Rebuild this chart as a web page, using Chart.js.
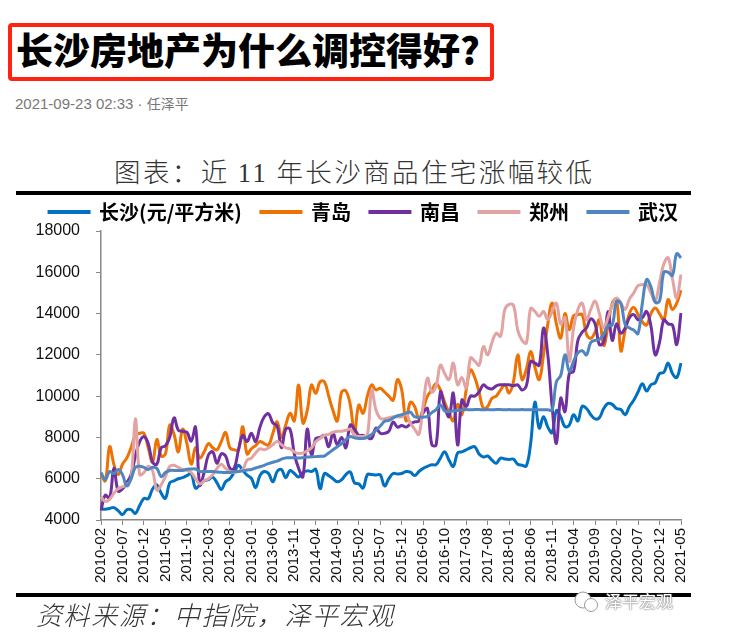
<!DOCTYPE html>
<html>
<head>
<meta charset="utf-8">
<script src="https://cdn.jsdelivr.net/npm/chart.js@4"></script>
<style>
  html, body { margin: 0; background: #fff; }
  body { position: relative; width: 744px; height: 634px; overflow: hidden; font-family: "Noto Sans CJK SC", sans-serif; }
  #headline { position: absolute; left: 8px; top: 23px; width: 478px; height: 50px; border: 4px solid #ff2412; border-radius: 4px;
    font-size: 37px; font-weight: 900; line-height: 44px; color: #000; text-indent: 4px; white-space: nowrap; }
  #stamp { position: absolute; left: 15px; top: 94px; font-family: "Liberation Sans", sans-serif; font-size: 15px; line-height: 18px; color: #777; white-space: nowrap; }
  #stamp span { font-family: "Noto Sans CJK SC", sans-serif; font-size: 14px; }
  #figTitle { position: absolute; left: 114px; top: 153px; font-size: 26.5px; line-height: 36px; font-weight: 300; letter-spacing: 2.4px; color: #333; white-space: nowrap; }
  #figTitle span { font-family: "Liberation Serif", serif; }
  .rule { position: absolute; left: 16px; width: 675px; background: #000; }
  #source { position: absolute; left: 36px; top: 597px; font-size: 26px; line-height: 34px; font-style: italic; font-weight: 300; letter-spacing: 1.6px; color: #333; white-space: nowrap; }
  #mark { position: absolute; left: 605px; top: 590px; font-size: 17px; line-height: 22px; color: #fff; text-shadow: 0 0 2px #777, 0 0 1px #555; white-space: nowrap; }
  #logo { position: absolute; left: 573px; top: 590px; }
  canvas { position: absolute; left: 0; top: 183px; }
</style>
</head>
<body>
<div id="headline">长沙房地产为什么调控得好?</div>
<div id="stamp">2021-09-23 02:33 · <span>任泽平</span></div>
<div id="figTitle">图表&#xFF1A;近 <span>11</span> 年长沙商品住宅涨幅较低</div>
<div class="rule" style="top:191px;height:4px"></div>
<canvas id="priceChart" width="744" height="412"></canvas>
<div class="rule" style="top:593px;height:4px"></div>
<div id="source">资料来源&#xFF1A;中指院&#xFF0C;泽平宏观</div>
<svg id="logo" width="26" height="24" viewBox="0 0 26 24">
  <circle cx="10" cy="10" r="8" fill="#fff" stroke="#999"/>
  <circle cx="18" cy="15" r="6.5" fill="#fff" stroke="#999"/>
</svg>
<div id="mark">泽平宏观</div>

<script>
// 2010-02 .. 2021-05, monthly
const months = [];
for (let y = 2010, m = 2; y < 2021 || m <= 5; m++) {
  if (m > 12) { m = 1; y++; }
  months.push(y + '-' + String(m).padStart(2, '0'));
}

const changsha = [
  4550,4520,4560,4600,4450,4260,4500,4500,4320,4700,
  5050,5030,5500,5700,5300,5050,5800,5900,6000,6050,
  6150,6250,5550,5700,5900,5950,6080,5800,5480,5850,
  6000,6300,6650,6400,6170,6020,5570,6150,6350,6250,
  5850,6350,6450,6050,6400,6250,6080,6300,6380,6350,
  6450,5520,6250,6150,6000,5850,5950,6200,6330,5800,
  5750,5550,6200,6200,6180,6190,5650,6000,6250,6230,
  6250,6350,6320,6150,6350,6500,6600,6680,6680,7000,
  7300,6900,6600,7250,7300,7400,7500,7550,7200,7050,
  7100,6900,6750,7000,6950,6930,6950,6700,6650,6620,
  7700,9700,8450,9000,8500,8230,9300,9000,8520,8600,
  9100,8800,9500,9400,9100,8900,8950,9400,9650,9600,
  9400,9350,9100,9500,9800,10200,10600,10250,10550,10650,
  11100,11150,11600,11100,10900,11600
];
const qingdao = [
  6200,5900,7550,6700,6200,6700,7000,7500,8100,8200,
  8200,7500,6800,7900,7100,7200,8600,8150,7300,8400,
  7700,6700,7500,7000,7300,7700,7500,7400,7800,8240,
  7500,7400,7400,8520,7200,7450,7600,7800,7700,7630,
  8200,8760,8000,8600,9170,8800,10540,8700,9300,10540,
  10140,10700,10700,10000,9300,8800,10200,10250,9600,8280,
  9570,9170,10000,10545,10300,10380,10200,10000,9800,10800,
  10300,8800,9700,9500,8900,9400,10000,10300,10600,10300,
  9700,9200,8800,9600,9100,10300,11270,10900,10200,9411,
  9500,9900,10000,10300,10550,10150,10700,12000,10800,11300,
  12165,11400,10800,12000,13500,14514,13500,12813,14000,13218,
  13900,13947,13950,13000,12800,13100,13700,12450,13400,14500,
  14700,12200,13200,14000,14300,13950,13600,13450,14000,14270,
  14000,13700,14680,14200,14500,15130
];
const nanchang = [
  4470,5200,5050,6500,5400,5500,5800,6200,7100,7800,
  8030,7700,6800,6700,7500,7600,8000,8950,8350,8300,
  8250,7820,8500,5700,6300,7150,7300,6750,7200,7100,
  6500,6500,7400,8100,7800,8200,7800,8500,9000,9150,
  8700,8550,7500,8400,8400,7200,6500,6100,8400,7150,
  7950,8000,8100,7550,8200,7650,8000,7500,8600,8400,
  8100,8100,8000,7950,8450,8200,8200,8300,8750,8500,
  8580,8500,8650,8750,8800,9200,9400,7650,7630,10200,
  9500,9000,10140,7630,9816,9500,10000,10000,10200,10545,
  10400,10350,10500,10550,10550,10550,10500,10550,10300,10500,
  11680,11600,11500,13300,12000,9500,7710,9900,9250,11100,
  11200,12700,13100,13300,13750,13500,12500,12600,14100,12700,
  13500,13050,13300,13800,13950,13700,13800,14100,13400,12000,
  12600,13700,13500,13450,12500,14030
];
const zhengzhou = [
  5120,4900,5000,5300,5520,5600,5700,6000,8900,6200,
  6300,6600,6400,5450,5700,6100,6600,6650,6550,6450,
  6400,6300,6000,5750,5900,6000,6200,6500,6700,6500,
  6350,6300,6350,6450,6900,7000,7250,7450,7400,7500,
  7650,7800,7650,7500,7450,7300,7220,7250,7350,7500,
  7800,7950,8100,8150,8250,8300,8300,8350,8400,8100,
  8050,8050,8100,10300,9330,8925,8900,8950,9000,9000,
  9000,9150,8700,8400,8150,9600,10869,10200,10500,11500,
  11100,10800,11600,10550,10900,10400,11850,11700,11500,12400,
  12000,12600,13050,12900,14200,14450,14400,13200,12700,12570,
  14250,14100,13870,14100,13700,14100,14500,13500,13800,11680,
  13300,14200,14500,13700,14200,14600,14000,13300,13800,14400,
  14750,14500,14200,14700,15000,15350,15400,15400,15000,14600,
  15500,16400,16700,15700,14760,15890
];
const wuhan = [
  6300,5950,6350,6250,6450,6200,5650,6000,6550,6600,
  6550,6450,6550,6500,6100,6300,6400,6400,6400,6400,
  6460,6470,6470,6350,6350,6350,6350,6320,6310,6300,
  6300,6350,6350,6380,6420,6450,6520,6580,6650,6730,
  6800,6850,6950,7010,7010,7020,7000,7020,7050,7060,
  7070,7090,7100,7250,7400,7550,7700,7900,8040,7980,
  7950,7950,8000,8150,8350,8550,8780,8830,8950,9050,
  9100,9180,9220,9000,8980,8980,9020,9200,9350,9570,
  9280,9250,9290,9310,9330,9350,9340,9350,9350,9340,
  9350,9340,9350,9350,9340,9350,9340,9340,9350,9340,
  9340,9350,9340,9340,9340,9330,10700,11000,12000,11200,
  11700,12100,12200,12000,12600,12700,12750,13000,13400,13450,
  14600,14500,13460,13300,13200,13030,14500,15650,15300,14550,
  14600,16000,16000,15850,16900,16700
];

const seriesNames = ['长沙(元/平方米)', '青岛', '南昌', '郑州', '武汉'];
const seriesValues = [changsha, qingdao, nanchang, zhengzhou, wuhan];
const seriesColors = ['#0070c0', '#ed7103', '#7030a0', '#e3a3a3', '#4f86c0'];

// the legend needs wide gaps between items but must sit close to the plot,
// and it is centred on the rule lines rather than on the plot
const tightLegend = {
  id: 'tightLegend',
  beforeInit(chart) {
    const fit = chart.legend.fit;
    chart.legend.fit = function () {
      fit.call(this);
      this.height = 48;
    };
  },
  afterLayout(chart) {
    chart.legend.left += 23;
    chart.legend.right += 23;
    chart.legend.adjustHitBoxes();
  }
};

const ctx = document.getElementById('priceChart').getContext('2d');
new Chart(ctx, {
  type: 'line',
  plugins: [tightLegend],
  data: {
    labels: months,
    datasets: seriesValues.map((values, i) => ({
      label: seriesNames[i],
      data: values,
      borderColor: seriesColors[i],
      backgroundColor: seriesColors[i],
      borderWidth: 3,
      pointRadius: 0,
      tension: 0.4,
      order: seriesValues.length - i  // later series paint on top, as in the source
    }))
  },
  options: {
    responsive: false,
    animation: false,
    layout: { padding: { top: 0, right: 63, bottom: 0, left: 0 } },
    plugins: {
      tooltip: { enabled: false },
      legend: {
        position: 'top',
        labels: {
          sort: (a, b) => a.datasetIndex - b.datasetIndex,
          boxWidth: 40,
          boxHeight: 1,
          padding: 19,
          color: '#000',
          font: { family: '"Noto Sans CJK SC"', size: 20, weight: 'bold' }
        }
      }
    },
    scales: {
      x: {
        afterFit: scale => { scale.height = 75; },
        border: { color: '#888', width: 1.5 },
        grid: { drawOnChartArea: false, tickLength: 5, tickColor: '#888', offset: false },
        offset: false,
        ticks: {
          autoSkip: false,
          maxRotation: 90,
          minRotation: 90,
          padding: 3,
          color: '#111',
          font: { family: '"Liberation Sans"', size: 15 },
          callback: function (value, index) {
            return index % 5 === 0 ? this.getLabelForValue(value) : null;
          }
        }
      },
      y: {
        min: 4000,
        max: 18000,
        afterFit: scale => { scale.width = 101; },
        border: { color: '#888', width: 1.5 },
        grid: { drawOnChartArea: false, tickLength: 5, tickColor: '#888' },
        ticks: {
          stepSize: 2000,
          padding: 16,
          color: '#111',
          font: { family: '"Liberation Sans"', size: 16 },
          callback: value => String(value)
        }
      }
    }
  }
});
</script>
</body>
</html>
